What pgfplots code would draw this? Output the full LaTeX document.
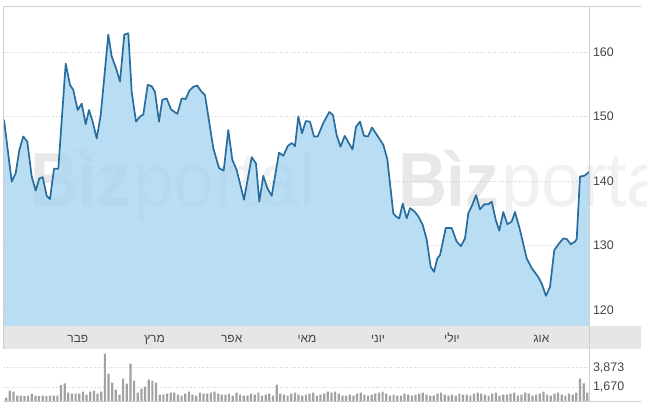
\documentclass[border=0pt]{standalone}
\usepackage{fontspec}
\setmainfont{Liberation Sans}
\newfontfamily\heb[Script=Hebrew]{Liberation Sans}
\usepackage{pgfplots}
\pgfplotsset{compat=1.18}
\usepackage{pgfplotstable}
\TeXXeTstate=1
\definecolor{areafill}{HTML}{A9D5F0}
\definecolor{linec}{HTML}{286D9E}
\definecolor{bandc}{HTML}{E6E6E6}
\definecolor{framec}{HTML}{CFCFCF}
\definecolor{volgray}{HTML}{A2A2A2}
\definecolor{gridc}{HTML}{C3D2DF}
\definecolor{labc}{HTML}{444444}
\pgfplotstableread{
x v
4 149.5
11.7 139.9
15.7 141.2
19.3 144.8
23.3 146.9
27.3 146.1
31.7 140.7
35.7 138.5
39.3 140.4
42.7 140.6
46.7 137.7
50 137.2
54 141.9
58.3 141.9
65.7 158.2
70 154.9
73.3 154.1
77.7 151.0
81.7 152.0
85.7 148.8
89 151.0
92.7 149.2
96.7 146.6
100.7 150.2
108.3 162.7
111.7 159.3
116 157.5
120 155.4
124.3 162.7
128.3 162.9
131.7 153.8
136 149.2
140 150.0
143.3 150.3
147.7 154.9
151.7 154.7
155 153.8
159 149.2
162.3 152.6
166.7 152.8
171 151.1
177.3 150.4
181.7 152.8
185.7 152.7
189.3 154.0
193.3 154.6
197.3 154.8
200.7 154.0
205 153.3
213.3 145.1
219 142.0
223.7 141.6
228.3 147.9
232.3 143.3
236.7 141.7
244 137.1
251.7 143.7
256 142.7
259.3 136.8
263.3 140.8
267.3 138.9
271.7 137.7
279 144.4
283.3 143.9
287.7 145.4
291.7 145.9
295 145.4
298.3 150.0
302 147.4
305.8 149.3
310 149.2
314 146.9
317.7 146.9
323 148.9
329.3 150.7
333 150.2
336.7 147.1
340.5 145.3
344.7 147.0
352.5 144.9
356 148.4
360 149.2
364 147.0
368 146.9
372 148.3
380 146.4
383.3 145.6
387.3 143.4
393.3 135.0
396 134.5
399.3 134.2
402.7 136.5
406.7 134.2
410 135.8
415 135.2
418.3 134.5
422.7 133.2
426.7 130.9
430.7 126.7
434 125.9
437.3 128.0
440 128.5
445.7 132.7
451.7 132.7
456.7 130.6
461 129.9
465 131.1
468.3 135.0
472.3 136.3
476 137.8
480 135.6
484.3 136.4
488.3 136.4
491.7 136.8
495.7 134.0
499.3 132.3
503.3 135.2
507.3 133.3
511.7 133.7
515 135.2
520 132.4
526.7 128.0
531.7 126.5
538.3 125.1
541.7 124.1
546 122.2
550 123.6
554.3 129.3
559 130.3
563.3 131.1
566.7 131.0
570.7 130.2
575 130.6
576.7 131.0
580 140.7
584.3 140.8
589 141.4
}\price
\pgfplotstableread[row sep=\\]{
x v\\
0 457\\ 1 1256\\ 2 1142\\ 3 685\\ 4 685\\ 5 628\\ 6 685\\ 7 914\\ 8 685\\ 9 628\\
10 685\\ 11 628\\ 12 685\\ 13 685\\ 14 685\\ 15 1907\\ 16 2090\\ 17 1028\\ 18 914\\ 19 914\\
20 914\\ 21 1142\\ 22 800\\ 23 1142\\ 24 1256\\ 25 914\\ 26 1142\\ 27 5482\\ 28 3198\\ 29 2170\\
30 1370\\ 31 800\\ 32 2627\\ 33 2056\\ 34 4340\\ 35 2398\\ 36 1028\\ 37 1485\\ 38 1713\\ 39 2512\\
40 2398\\ 41 2170\\ 42 800\\ 43 800\\ 44 914\\ 45 1028\\ 46 1028\\ 47 800\\ 48 685\\ 49 914\\
50 1142\\ 51 800\\ 52 685\\ 53 1028\\ 54 914\\ 55 914\\ 56 1028\\ 57 1142\\ 58 914\\ 59 800\\
60 800\\ 61 914\\ 62 685\\ 63 1028\\ 64 800\\ 65 685\\ 66 685\\ 67 914\\ 68 800\\ 69 1028\\
70 685\\ 71 800\\ 72 914\\ 73 685\\ 74 1941\\ 75 914\\ 76 800\\ 77 685\\ 78 914\\ 79 1028\\
80 800\\ 81 685\\ 82 800\\ 83 914\\ 84 1028\\ 85 685\\ 86 800\\ 87 914\\ 88 1142\\ 89 1028\\
90 1142\\ 91 914\\ 92 685\\ 93 685\\ 94 800\\ 95 685\\ 96 914\\ 97 1028\\ 98 800\\ 99 685\\
100 800\\ 101 914\\ 102 1028\\ 103 1142\\ 104 914\\ 105 685\\ 106 800\\ 107 685\\ 108 685\\ 109 914\\
110 800\\ 111 685\\ 112 800\\ 113 914\\ 114 1028\\ 115 800\\ 116 685\\ 117 685\\ 118 914\\ 119 1028\\
120 800\\ 121 685\\ 122 800\\ 123 685\\ 124 914\\ 125 800\\ 126 800\\ 127 685\\ 128 914\\ 129 1028\\
130 914\\ 131 800\\ 132 685\\ 133 914\\ 134 1028\\ 135 685\\ 136 800\\ 137 800\\ 138 914\\ 139 1028\\
140 685\\ 141 800\\ 142 1028\\ 143 914\\ 144 685\\ 145 800\\ 146 914\\ 147 1142\\ 148 800\\ 149 685\\
150 914\\ 151 1028\\ 152 800\\ 153 685\\ 154 914\\ 155 800\\ 156 1028\\ 157 2627\\ 158 2090\\ 159 1028\\
}\vol
\begin{document}
\begin{tikzpicture}
\useasboundingbox (0,0) rectangle (647bp,406bp);
\fill[bandc] (3bp,57bp) rectangle (641bp,80bp);
\node[anchor=base west, inner sep=0, text=black, opacity=0.09, font=\fontsize{77}{80}\selectfont\bfseries, xscale=0.88] at (30bp,199bp) {Bìz};
\node[anchor=base west, inner sep=0, text=black, opacity=0.055, font=\fontsize{77}{80}\selectfont, xscale=0.95] at (133bp,199bp) {portal};
\node[anchor=base west, inner sep=0, text=black, opacity=0.09, font=\fontsize{77}{80}\selectfont\bfseries, xscale=0.88] at (398bp,199bp) {Bìz};
\node[anchor=base west, inner sep=0, text=black, opacity=0.055, font=\fontsize{77}{80}\selectfont, xscale=0.95] at (501bp,199bp) {porta};
\begin{axis}[
  at={(4bp,80bp)}, anchor=south west, scale only axis,
  width=585.5bp, height=320bp,
  xmin=4, xmax=589.5, ymin=117.52, ymax=167.13,
  axis line style={draw=none}, major tick length=0pt,
  ytick={120,130,140,150,160}, ytick pos=right, yticklabel pos=right,
  yticklabel style={font=\fontsize{12.5}{14}\selectfont, text=labc, anchor=west},
  xtick={77.8,154.5,231.7,307,378,452,541.5}, xtick pos=bottom,
  xticklabels={{\heb\beginR פבר\endR},{\heb\beginR מרץ\endR},{\heb\beginR אפר\endR},{\heb\beginR מאי\endR},{\heb\beginR יוני\endR},{\heb\beginR יולי\endR},{\heb\beginR אוג\endR}},
  xticklabel style={font=\fontsize{12}{14}\selectfont, text=labc, anchor=base, yshift=-17bp},
  ymajorgrids, grid style={gridc, line width=0.8bp, dash pattern=on 1bp off 1.6bp},
  /pgf/number format/assume math mode=true,
]
\addplot[fill=areafill, fill opacity=0.82, draw=none] table[x=x,y=v]{\price} \closedcycle;
\addplot[linec, line width=1.7bp, line join=round] table[x=x,y=v]{\price};
\end{axis}
\begin{axis}[
  at={(4bp,4.3bp)}, anchor=south west, scale only axis,
  width=585.5bp, height=52.7bp,
  xmin=-0.6, xmax=159.6, ymin=0, ymax=6018,
  axis line style={draw=none}, major tick length=0pt, xtick=\empty,
  ytick={1670,3873}, yticklabels={{1,670},{3,873}},
  ytick pos=right, yticklabel pos=right,
  yticklabel style={font=\fontsize{12.5}{14}\selectfont, text=labc, anchor=west},
  ymajorgrids, grid style={framec, line width=0.7bp, dash pattern=on 1bp off 1.6bp},
  scaled y ticks=false,
  /pgf/number format/assume math mode=true,
]
\addplot[ybar, bar width=2.2bp, fill=volgray, draw=none] table[x=x,y=v]{\vol};
\end{axis}
\draw[framec, line width=0.8bp] (3bp,400bp) -- (641bp,400bp);
\draw[framec, line width=0.8bp] (3.5bp,400bp) -- (3.5bp,57bp);
\draw[framec, line width=0.8bp] (589.5bp,400bp) -- (589.5bp,4.3bp);
\draw[framec, line width=0.8bp] (3bp,4.3bp) -- (641bp,4.3bp);
\end{tikzpicture}
\end{document}
